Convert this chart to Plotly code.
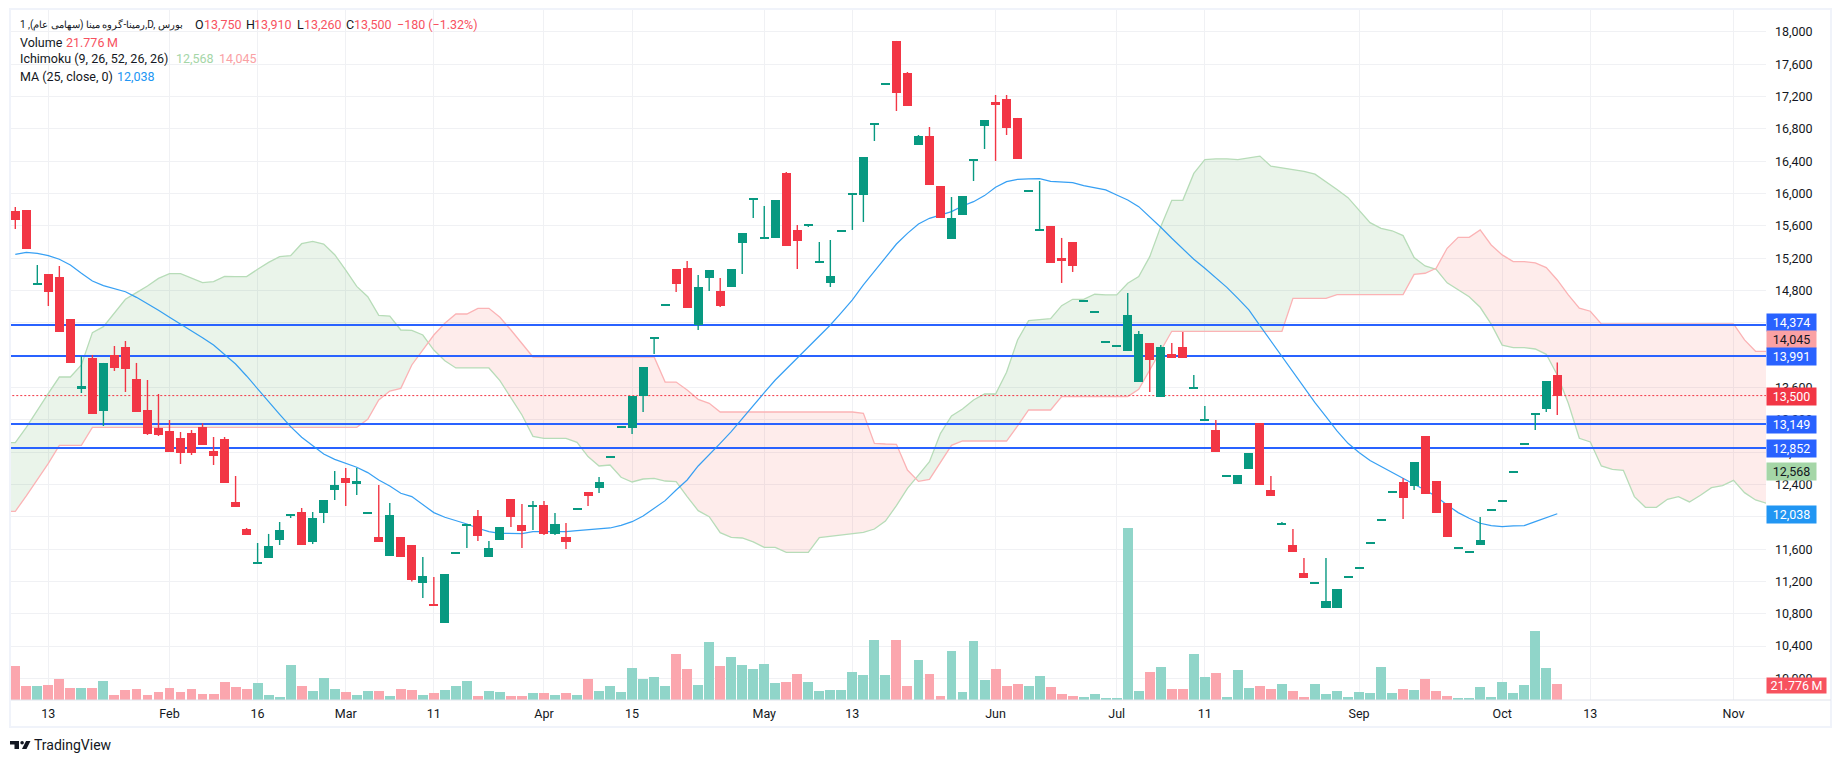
import numpy as np
import plotly.graph_objects as go

open_ = [15785,15797,14890,15005,14968,14448,13582,13966,13310,14003,14102,13706,13322,13099,13062,12975,13037,13112,12815,12963,
12183,11849,11441,11490,11713,12031,12060,11688,12047,12332,12480,12406,12056,11750,11515,11750,11652,11181,10918,10686,
11561,11907,12010,11503,11713,12221,11899,12142,12147,11788,11751,12105,12307,12357,12749,13120,13099,13495,14221,14630,
15067,15079,14374,14955,14795,14844,15389,15941,15455,15450,16255,15549,15620,15162,14894,15546,16003,15983,16870,17365,
17889,17493,16602,16713,16094,15438,15735,16424,16837,17134,17171,16936,16041,15558,15599,15203,15401,14679,14543,14172,
14122,14053,13669,14152,13488,14016,14102,13603,13207,13075,12514,12407,12592,13158,12332,11920,11651,11305,11189,10871,
10871,11263,11375,11684,11970,12316,12432,12382,13001,12444,12172,11622,11573,11652,12093,12205,12564,12911,13281,13335,13750]
high_ = [15834,15797,15116,15005,15104,14448,13990,14003,13904,14114,14176,13904,13693,13520,13198,13050,13074,13157,12988,12988,
12505,11862,11676,11788,11936,12031,12109,12060,12208,12567,12604,12604,12056,12394,12171,11750,11652,11503,11256,11293,
11561,11907,12085,11701,11874,12221,12159,12196,12196,12048,11924,12105,12307,12493,12749,13120,13495,13854,14221,14630,
15067,15166,14993,15054,14955,15067,15512,15941,15846,15921,16267,15611,15620,15401,15426,15546,16003,16453,16870,17365,
17889,17505,16725,16824,16094,15958,15970,16424,16911,17220,17220,16936,16041,16156,15599,15451,15401,14679,14543,14172,
14122,14770,14300,14152,14127,14152,14288,13756,13372,13199,12514,12518,12790,13158,12506,11937,11850,11490,11189,11490,
11107,11263,11375,11684,11970,12316,12477,12679,13001,12444,12172,11622,11573,11998,12093,12205,12564,12911,13281,13681,13910]
low_ = [15562,15314,14890,14609,14287,13904,13532,13273,13124,13805,13545,13297,13013,13000,12802,12654,12765,12889,12641,12419,
12122,11775,11441,11490,11651,11985,11651,11663,11923,12208,12134,12270,12056,11688,11515,11503,11198,10996,10917,10686,
11561,11614,11701,11503,11713,11874,11614,11837,11775,11775,11602,12105,12134,12296,12749,13120,13025,13297,14015,14630,
14782,14584,14312,14795,14597,14844,15005,15698,15455,15450,15351,15067,15587,15162,14844,15546,15550,15649,16651,17365,
17022,17084,16602,16107,15698,15438,15735,16156,16552,16404,16725,16428,16041,15558,15141,14894,15030,14679,14543,14172,
14122,14053,13669,13545,13488,13966,13966,13603,13207,12803,12514,12407,12592,12394,12258,11920,11565,11243,11189,10871,
10871,11263,11375,11684,11970,12316,11974,12332,12283,12048,11751,11622,11573,11652,12093,12205,12564,12911,13075,13298,13260]
close_ = [15673,15314,14890,14782,14287,13904,13619,13273,13904,13842,13829,13297,13025,13013,12802,12790,12790,12889,12753,12419,
12122,11775,11441,11639,11837,12031,11651,11985,12208,12394,12419,12443,12056,11688,12023,11503,11218,11268,10917,11293,
11561,11907,11763,11614,11874,11998,11825,12142,11788,11911,11689,12105,12258,12431,12749,13120,13495,13854,14221,14630,
14881,14584,14844,15054,14609,15067,15512,15941,15455,15921,15351,15413,15620,15162,14980,15546,16003,16453,16870,17365,
17245,17084,16713,16107,15698,15698,15970,16424,16911,17097,16812,16428,16041,15558,15141,15166,15104,14679,14543,14172,
14122,14498,14263,13941,14102,13966,13966,13603,13207,12803,12514,12518,12790,12394,12258,11920,11565,11243,11189,10958,
11107,11263,11375,11684,11970,12316,12234,12679,12283,12048,11751,11622,11573,11713,12093,12205,12564,12911,13281,13681,13500]
volume_m = [46,19,19,20,29,16,16,16,26,7,14,15,7,11,16,11,15,8,8,24.5,
17.7,15,23,7,4,47.6,19,12,30,15,11,7,12,12,5.5,15,14,7,9.5,14,
19,26,5.5,12,11,5.5,5.5,9.5,9.5,7,9.5,7,29,12,19,11,43.5,29,31,19,
62.6,42,20,79,46,58.5,47.6,42,49,23,24.5,35,24.5,12,13.6,13.6,38,34,81.7,34,
81.7,19,54,35,5.5,66.7,11,80,27,42,19,22,19,32.7,17.7,8,5.5,4,8,2.7,
2.7,234,12,38,45,15,15,62.6,31,37,4,41,16,19,15,22,12,4,22,8,
12,4,11,9.5,45,9.5,15,13.6,28.6,12,5.5,2.7,2.7,17.7,4,24.5,9.5,20,94,43.5,21.776]
ma25 = [15248,15273,15261,15232,15187,15116,15013,14918,14861,14819,14786,14716,14638,14555,14469,14386,14300,14217,14126,14011,
13891,13743,13590,13425,13268,13116,12984,12876,12778,12711,12658,12613,12547,12456,12382,12291,12250,12147,12052,11994,
11953,11911,11858,11817,11796,11792,11792,11817,11817,11813,11817,11829,11841,11850,11862,11895,11940,12010,12105,12200,
12332,12456,12629,12765,12909,13054,13219,13380,13536,13693,13829,13961,14098,14238,14374,14527,14684,14869,15034,15211,
15376,15508,15624,15694,15735,15777,15847,15900,15975,16078,16148,16177,16181,16185,16152,16148,16136,16098,16074,16045,
15983,15921,15838,15715,15583,15447,15311,15187,15076,14964,14840,14704,14560,14366,14176,13991,13797,13603,13413,13240,
13063,12910,12795,12696,12621,12551,12477,12403,12332,12250,12147,12052,11982,11920,11891,11879,11887,11891,11941,11994,12038]
# Ichimoku leading spans, first value is one bar left of the first candle
span_a = [12918,12918,13108,13322,13528,13730,13730,13879,14279,14353,14527,14692,14774,14857,14951,15009,15009,14951,14898,14910,14976,
14972,14972,15063,15149,15220,15232,15380,15409,15376,15244,15054,14852,14724,14494,14485,14312,14308,14250,14064,13932,
13842,13842,13842,13842,13685,13475,13260,12996,12971,12971,12971,12922,12745,12629,12641,12489,12431,12468,12476,12443,
12435,12250,12076,12002,11804,11746,11738,11689,11622,11622,11560,11560,11560,11744,11760,11770,11790,11808,11849,11948,
12138,12352,12517,12682,13033,13248,13334,13446,13520,13520,13788,14188,14428,14436,14452,14613,14692,14692,14754,14746,
14746,14890,14973,15220,15591,15917,15917,16250,16420,16430,16430,16420,16445,16464,16340,16320,16300,16276,16240,16150,
16050,15950,15800,15640,15570,15540,15480,15208,15104,15062,14895,14812,14724,14593,14385,14125,14094,14094,14077,14011,
13756,13405,12972,12926,12630,12588,12576,12250,12118,12118,12217,12250,12184,12266,12361,12386,12452,12299,12209,12168]
span_b = [12068,12068,12258,12456,12662,12885,12885,12885,13107,13107,13107,13107,13107,13107,13107,13107,13107,13107,13107,13107,13107,
13107,13107,13107,13107,13107,13107,13107,13107,13107,13107,13107,13107,13207,13446,13557,13590,13879,14064,14250,14395,
14510,14510,14580,14580,14469,14312,14139,13978,13978,13978,13978,13978,13978,13978,13978,13978,13978,13978,13978,13668,
13668,13570,13454,13404,13297,13297,13297,13297,13297,13297,13297,13297,13297,13297,13297,13297,13297,13280,12909,12901,
12897,12579,12439,12464,12670,12884,12938,12938,12938,12938,12938,13124,13322,13322,13322,13487,13488,13488,13488,13488,
13488,13488,13578,13817,14044,14296,14296,14296,14296,14296,14296,14296,14296,14296,14296,14296,14704,14704,14704,
14704,14750,14750,14750,14750,14750,14750,14750,15001,15014,15076,15323,15459,15459,15550,15364,15241,15158,15158,15142,15084,
14931,14746,14581,14544,14387,14387,14387,14387,14387,14387,14387,14387,14387,14387,14387,14387,14387,14189,14048,14048]
level_prices = [14374, 13991, 13149, 12852]
last_price = 13500
price_ticks = [10000 + 400*k for k in range(21)]
time_tick_bars = [3, 14, 22, 30, 38, 48, 56, 68, 76, 89, 100, 108, 122, 135, 143, 156]
time_tick_text = ["13","Feb","16","Mar","11","Apr","15","May","13","Jun","Jul","11","Sep","Oct","13","Nov"]
assert len(open_)==len(high_)==len(low_)==len(close_)==len(volume_m)==len(ma25)==141, (len(open_),len(high_),len(low_),len(close_),len(volume_m),len(ma25))
assert len(span_a)==len(span_b)==161, (len(span_a),len(span_b))

FONT = "Roboto"
UP, DOWN = "#089981", "#f23645"
W, H = 1840, 763
L, R, T, B = 11, 1766, 10, 700
PRICE_RANGE = [9733, 18272]
MIN_BODY = 15  # smallest drawn body, in price units, so a doji stays visible as a thin line
def PX(x): return (x-L)/(R-L)
def PY(y): return (B-y)/(B-T)

bars = np.arange(141)
cloud_x = np.arange(-1, 160)
o, h, l, c = map(np.array, (open_, high_, low_, close_))
is_up = c >= o
fig = go.Figure()

# volume (under everything)
fig.add_trace(go.Bar(x=bars, y=volume_m, width=0.9, yaxis="y", xaxis="x",
    marker=dict(color=["#90d5c9" if u else "#fba6ae" for u in is_up], line_width=0), hoverinfo="skip"))

# cloud polygons
a, b = np.array(span_a, float), np.array(span_b, float)
d = a-b
segs, xs, ya, yb = [], [], [], []
for i in range(len(d)):
    xs.append(float(cloud_x[i])); ya.append(a[i]); yb.append(b[i])
    if i+1 < len(d) and (d[i] >= 0) != (d[i+1] >= 0):
        t = d[i]/(d[i]-d[i+1])
        xc = float(cloud_x[i]+t); yc = a[i]+t*(a[i+1]-a[i])
        xs.append(xc); ya.append(yc); yb.append(yc)
        segs.append((xs, ya, yb, d[i] >= 0))
        xs, ya, yb = [xc], [yc], [yc]
segs.append((xs, ya, yb, d[-1] >= 0))
for sx, sa, sb, green in segs:
    fig.add_trace(go.Scatter(x=sx+sx[::-1], y=sa+sb[::-1], yaxis="y2", mode="lines", line_width=0,
        fill="toself", fillcolor="rgba(67,160,71,0.115)" if green else "rgba(244,67,54,0.1)", hoverinfo="skip"))
fig.add_trace(go.Scatter(x=cloud_x, y=span_a, yaxis="y2", mode="lines", line=dict(color="#b7dcb8", width=1.3), hoverinfo="skip"))
fig.add_trace(go.Scatter(x=cloud_x, y=span_b, yaxis="y2", mode="lines", line=dict(color="#fbb3b5", width=1.3), hoverinfo="skip"))

# horizontal levels
for lv in level_prices:
    fig.add_trace(go.Scatter(x=[-1,160], y=[lv,lv], yaxis="y2", mode="lines", line=dict(color="#2962ff", width=2), hoverinfo="skip"))
fig.add_trace(go.Scatter(x=[-1,160], y=[last_price,last_price], yaxis="y2", mode="lines",
    line=dict(color=DOWN, width=1, dash="2px,2px"), hoverinfo="skip"))
# MA
fig.add_trace(go.Scatter(x=bars, y=ma25, yaxis="y2", mode="lines", line=dict(color="#2196f3", width=1.2), opacity=0.9, hoverinfo="skip"))

# candles: bodies and wicks on an overlay axis, so they sit above the lines
for mask, col in ((is_up, UP), (~is_up, DOWN)):
    idx = bars[mask]
    top = np.maximum(o, c)[mask]; bot = np.minimum(o, c)[mask]
    size = np.maximum(top-bot, MIN_BODY)
    fig.add_trace(go.Bar(x=idx, y=size, base=top-size, width=0.82, yaxis="y3",
        marker=dict(color=col, line_width=0), hoverinfo="skip"))
    wx, wy = [], []
    for i in idx:
        wx += [int(i), int(i), None]; wy += [int(l[i]), int(h[i]), None]
    fig.add_trace(go.Scatter(x=wx, y=wy, yaxis="y3", mode="lines", line=dict(color=col, width=1.4), hoverinfo="skip"))

def txt(x, y, s, color="#131722", size=12.5):
    return dict(xref="paper", yref="paper", x=PX(x), y=PY(y), text=s, showarrow=False, xanchor="left", yanchor="middle",
                font=dict(family=FONT, size=size, color=color), borderpad=0)
def tag(y, s, bg, fg="#ffffff", w=49, h=17):
    return dict(xref="paper", yref="paper", x=PX(R), y=PY(y), text=s, showarrow=False, xanchor="left", yanchor="middle",
                width=w, height=h, bgcolor=bg, align="center", valign="middle", borderpad=0,
                font=dict(family=FONT, size=12.5, color=fg))
RED = "#f7525f"
ann = [
    txt(18.5, 24.5, "رمینا-گروه مینا (سهامی عام), 1,D, بورس", size=10),
    txt(193.7, 24.5, "O"), txt(203, 24.5, "13,750", RED),
    txt(244.5, 24.5, "H"), txt(253, 24.5, "13,910", RED),
    txt(295.7, 24.5, "L"), txt(303, 24.5, "13,260", RED),
    txt(344.7, 24.5, "C"), txt(353, 24.5, "13,500", RED),
    txt(395.7, 24.5, "−180 (−1.32%)", RED),
    txt(18.5, 42, "Volume"), txt(64.7, 42, "21.776\u2009M", RED),
    txt(18.5, 59, "Ichimoku (9, 26, 52, 26, 26)"), txt(175, 59, "12,568", "#a5d6a7"), txt(218, 59, "14,045", "#faa1a4"),
    txt(18.5, 76, "MA (25, close, 0)"), txt(116, 76, "12,038", "#2196f3"),
    tag(322.3, "14,374", "#2962ff"),
    tag(339.3, "14,045", "#faa1a4", "#131722"),
    tag(356.3, "13,991", "#2962ff"),
    tag(396.7, "13,500", DOWN),
    tag(424.3, "13,149", "#2962ff"),
    tag(448.3, "12,852", "#2962ff"),
    tag(471, "12,568", "#a5d6a7", "#131722"),
    tag(514.5, "12,038", "#2196f3"),
    tag(685.5, "21.776\u2009M", RED, w=59, h=15),
    txt(33, 745, "TradingView", "#131722", 14),
]
P = lambda x, y: f"{PX(x):.5f},{PY(y):.5f}"
logo = ("M"+P(10,741)+"L"+P(19,741)+"L"+P(19,749)+"L"+P(14.5,749)+"L"+P(14.5,744.5)+"L"+P(10,744.5)+"Z"
        "M"+P(26,741)+"L"+P(30.5,741)+"L"+P(26.5,749)+"L"+P(22,749)+"Z")
shapes = [
    dict(type="rect", xref="paper", yref="paper", x0=PX(10), x1=PX(1831), y0=PY(9), y1=PY(727), line=dict(color="#f0f3fa", width=2), layer="below"),
    dict(type="line", xref="paper", yref="paper", x0=PX(11), x1=PX(1831), y0=PY(700), y1=PY(700), line=dict(color="#e0e3eb", width=1)),
    dict(type="path", xref="paper", yref="paper", path=logo, fillcolor="#131722", line_width=0),
    dict(type="circle", xref="paper", yref="paper", x0=PX(20.3), x1=PX(23.9), y0=PY(741), y1=PY(744.6), fillcolor="#131722", line_width=0),
]
fig.update_layout(
    width=W, height=H, autosize=False, showlegend=False, paper_bgcolor="#ffffff", plot_bgcolor="#ffffff",
    margin=dict(l=L, r=W-R, t=T, b=H-B, pad=0), bargap=0, barmode="overlay",
    annotations=ann, shapes=shapes, font=dict(family=FONT, size=12, color="#131722"),
    xaxis=dict(range=[-0.39, 158.95], tickmode="array", tickvals=time_tick_bars, ticktext=time_tick_text,
               showgrid=True, gridcolor="#f0f1f4", gridwidth=1, zeroline=False, showline=False, ticks="",
               tickfont=dict(family=FONT, size=12.5, color="#131722"), ticklabelstandoff=4),
    yaxis=dict(range=[0, 939], visible=False, fixedrange=True),
    yaxis2=dict(range=PRICE_RANGE, overlaying="y", anchor="x", side="right", tickmode="array", tickvals=price_ticks,
                tickformat=",d", showgrid=True, gridcolor="#f0f1f4", gridwidth=1, zeroline=False, showline=False, ticks="",
                tickfont=dict(family=FONT, size=12.5, color="#131722"), ticklabelstandoff=8),
    yaxis3=dict(range=PRICE_RANGE, overlaying="y", anchor="x", side="right", visible=False, showgrid=False),
)
fig.write_html("out.html", config=dict(displayModeBar=False, responsive=False),
               post_script="document.body.style.margin='0';document.documentElement.style.overflow='hidden';")
